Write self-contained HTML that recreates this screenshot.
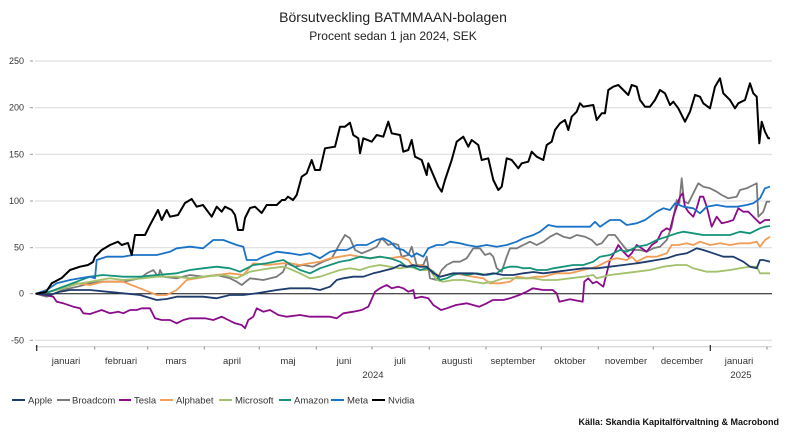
<!DOCTYPE html>
<html><head><meta charset="utf-8"><style>
html,body{margin:0;padding:0;background:#fff;}
body{width:786px;height:437px;overflow:hidden;}
svg{display:block;}
text{font-family:"Liberation Sans",sans-serif;}
</style></head><body>
<svg width="786" height="437" viewBox="0 0 786 437" xmlns="http://www.w3.org/2000/svg">
<text x="393" y="22" text-anchor="middle" font-size="14" fill="#222">Börsutveckling BATMMAAN-bolagen</text>
<text x="393" y="40" text-anchor="middle" font-size="12" fill="#222">Procent sedan 1 jan 2024, SEK</text>
<g stroke="#d9d9d9" stroke-width="1">
<line x1="35" y1="61" x2="772" y2="61"/>
<line x1="35" y1="107.7" x2="772" y2="107.7"/>
<line x1="35" y1="154.3" x2="772" y2="154.3"/>
<line x1="35" y1="201" x2="772" y2="201"/>
<line x1="35" y1="247.7" x2="772" y2="247.7"/>
<line x1="35" y1="340.3" x2="772" y2="340.3"/>
</g>
<g stroke="#999" stroke-width="1">
<line x1="30" y1="61" x2="33" y2="61"/><line x1="30" y1="107.7" x2="33" y2="107.7"/><line x1="30" y1="154.3" x2="33" y2="154.3"/><line x1="30" y1="201" x2="33" y2="201"/><line x1="30" y1="247.7" x2="33" y2="247.7"/><line x1="30" y1="293.7" x2="33" y2="293.7"/><line x1="30" y1="340.3" x2="33" y2="340.3"/>
</g>
<g font-size="9" fill="#333" text-anchor="end">
<text x="24" y="64">250</text><text x="24" y="110.7">200</text><text x="24" y="157.3">150</text><text x="24" y="204">100</text><text x="24" y="250.7">50</text><text x="24" y="296.7">0</text><text x="24" y="343.3">-50</text>
</g>
<line x1="35" y1="346.7" x2="772" y2="346.7" stroke="#ccc" stroke-width="1"/>
<g stroke="#888" stroke-width="1">
<line x1="94.7" y1="346.7" x2="94.7" y2="349.5"/><line x1="147.7" y1="346.7" x2="147.7" y2="349.5"/><line x1="204.3" y1="346.7" x2="204.3" y2="349.5"/><line x1="259.3" y1="346.7" x2="259.3" y2="349.5"/><line x1="316.3" y1="346.7" x2="316.3" y2="349.5"/><line x1="372" y1="346.7" x2="372" y2="349.5"/><line x1="429.3" y1="346.7" x2="429.3" y2="349.5"/><line x1="486" y1="346.7" x2="486" y2="349.5"/><line x1="541.3" y1="346.7" x2="541.3" y2="349.5"/><line x1="598.3" y1="346.7" x2="598.3" y2="349.5"/><line x1="653.3" y1="346.7" x2="653.3" y2="349.5"/><line x1="767" y1="346.7" x2="767" y2="349.5"/>
</g>
<g stroke="#222" stroke-width="1.2">
<line x1="36.7" y1="345" x2="36.7" y2="351"/><line x1="710.3" y1="345" x2="710.3" y2="351"/>
</g>
<g font-size="9.5" fill="#333" text-anchor="middle">
<text x="66" y="364">januari</text><text x="121" y="364">februari</text><text x="176" y="364">mars</text><text x="232" y="364">april</text><text x="288" y="364">maj</text><text x="344" y="364">juni</text><text x="400" y="364">juli</text><text x="457" y="364">augusti</text><text x="513" y="364">september</text><text x="570" y="364">oktober</text><text x="626" y="364">november</text><text x="682" y="364">december</text><text x="739" y="364">januari</text>
<text x="373" y="378">2024</text><text x="741" y="378">2025</text>
</g>
<line x1="35" y1="293.7" x2="772" y2="293.7" stroke="#111" stroke-width="1"/>
<g fill="none" stroke-width="1.8" stroke-linejoin="round">
<polyline stroke="#7a7a7a" points="36,293.7 46.7,296.7 63,290 80,286 90,283.3 103,281.7 123,281.7 140,278.3 146.7,273.3 153.3,270 158.3,276.7 160,270 163.3,276.7 176.7,278.3 190,275 203,276.7 216.7,275 230,278.3 236.7,281.7 241.7,285 250,278.3 263.3,280 276.7,276.7 283,272 286.7,263.3 295,266.7 303,265 313,266.7 323,261.7 331.7,258.3 340,243.3 345,235 350,238.3 355,250 361.7,253.3 370,250 376.7,246.7 381.7,238.3 388.3,245 393.3,243.3 398.3,245 401.7,256.7 408.3,255 411.7,246.7 416.7,265 423.3,265 426.7,256.7 430,278.3 436.7,280 441.7,270 446.7,265 453.3,261.7 460,261.7 466.7,258.3 473.3,248.3 480,248.3 485,255 490,253.3 493.3,256.7 496.7,268.3 501.7,271.7 506.7,256.7 510,248.3 516.7,248.3 523.3,245 530,241.7 536.7,245 543.3,241.7 550,236.7 556.7,233.3 563.3,236.7 570,238.3 576.7,235 585,236.7 591.7,240 596.7,245 601.7,243.3 608.3,235 615,235 620,241.7 626.7,250 633.3,250 640,250 646.7,251.7 653.3,248.3 660,246.7 666.7,240 671.7,226.7 676.7,200 679.3,203.3 681.7,178.3 684,201.7 688.3,203.3 693.3,193.3 698.3,183.3 703.3,186.7 710,188.3 716.7,191.7 721.7,195 728.3,198.3 736.7,196.7 740,190 746.7,188.3 753.3,185 756.7,183.3 758.3,216.7 763.3,211.7 766.7,201.7 770,201.7"/>
<polyline stroke="#8a0c8a" points="36,293.7 45,295 53.3,296.7 56.7,301.7 63.3,303.3 73.3,306.7 80,308.3 83.3,313.3 90,314 96.7,311.7 101.7,310 110,313.3 118.3,311.7 123.3,313.3 130,310 136.7,310 141.7,308.3 150,308.3 155,318.3 161.7,320 170,320 176.7,323.3 183.3,320 190,318.3 198.3,318.3 205,318.3 213.3,320 221.7,316.7 228.3,320 235,323.3 241.7,325 245,328.3 248.3,320 253.3,316.7 256.7,308.3 263.3,311.7 270,310 278.3,315 286.7,316.7 300,315 310,316.7 330,316.7 336.7,318.3 343.3,313.3 353.3,311.7 361.7,310 368.3,306.7 375,291.7 380,288.3 386.7,285 391.7,288.3 398.3,286.7 403.3,288.3 408.3,291.7 413.3,290 415,298.3 421.7,296.7 428.3,298.3 433.3,305 441,310 446.7,308.3 456,305 466.7,303.3 479.3,306.7 486.7,303.3 492.7,300 503.3,300 510,298.3 519.3,295 526.7,291.7 532.7,288.3 543.3,290 552.7,290 556.7,293.3 559.3,301.7 570,299.3 582.7,301.7 584.3,281.7 588.3,278.3 592.7,283.3 596.7,281.7 603.3,286.7 606.7,273.3 610,260 615,251.7 618.3,245 623.3,251.7 628.3,256.7 631.7,253.3 636.7,245 641.7,248.3 646.7,251.7 651.7,245 656.7,241.7 661.7,231.7 666.7,228.3 670,230 673.3,216.7 676.7,206.7 680,196.7 682.7,193.3 685,206.7 688.3,211.7 693.3,216.7 696.7,208.3 700,196.7 703.3,196.7 706.7,206.7 711.7,226.7 716.7,216.7 721.7,223.3 728.3,221.7 733.3,220 738.3,208.3 743.3,211.7 748.3,211.7 753.3,216.7 760,223.3 765,220 770,220"/>
<polyline stroke="#f29c55" points="36,293.7 50,291.7 63.3,286.7 76.7,283.3 90,285 103,281.7 123,281.7 140,288.3 156.7,295 166.7,295 176.7,290 186.7,280 196.7,278.3 216.7,275 230,273.3 243.3,275 253.3,263.3 266.7,265 283.3,263.3 290,263.3 300,265 310,263.3 320,261.7 330,258.3 340,256.7 350,255 360,256.7 370,258.3 380,256.7 390,258.3 400,256.7 408.3,260 413.3,266.7 420,265 426.7,266.7 433.3,271.7 440,276.7 446.7,275 453.3,273.3 463.3,275 473.3,276.7 483.3,278.3 490,283.3 500,283.3 510,281.7 516.7,276.7 526.7,278.3 536.7,276.7 543.3,276.7 556.7,273.3 570,273.3 583.3,270 596.7,266.7 603.3,263.3 610,260 616.7,258.3 626.7,260 631.7,256.7 636.7,261.7 646.7,256.7 656.7,256.7 666.7,253.3 671.7,245 678.3,245 686.7,243.3 693.3,245 700,241.7 710,245 720,243.3 730,245 740,243.3 750,243.3 756.7,241.7 760,246.7 765,240 770,236.7"/>
<polyline stroke="#a3c06b" points="36,293.7 50,291.7 63.3,288.3 76.7,284 90,281.7 110,278.3 123,280 143,278.3 156.7,276.7 176.7,276.7 190,278.3 203,276.7 223.3,275 236.7,278.3 250,271.7 270,268.3 283.3,266.7 290,269 300,273.3 310,278.3 320,276.7 330,273.3 340,270 350,268.3 360,270 370,266.7 380,265 390,266.7 400,268.3 410,266.7 420,270 430,270 436.7,280 443.3,281.7 453.3,280 463.3,280 473.3,281.7 483.3,283.3 493.3,281.7 503.3,278.3 513.3,278.3 523.3,278.3 533.3,278.3 543.3,280 556.7,280 570,278.3 583.3,276.7 593.3,275 596.7,278.3 610,275 623.3,273.3 636.7,271.7 650,270 663.3,266.7 676.7,265 686.7,265 693.3,268.3 700,270 706.7,271.7 716.7,271.7 730,270 740,268.3 750,266.7 756.7,266.7 760,273.3 765,273.3 770,273.3"/>
<polyline stroke="#13937a" points="36,293.7 50,291.7 63.3,286.7 76.7,281.7 90,276.7 103,275 123,276.7 140,276.7 156.7,275 176.7,273.3 190,270 203,268.3 216.7,266.7 230,268.3 240,271.7 253.3,265 266.7,263.3 283.3,260 290,264 300,270 310,273.3 320,268.3 330,265 340,261.7 350,260 360,256.7 370,258.3 380,256.7 390,258.3 400,261.7 406.7,266.7 413.3,266.7 420,270 426.7,268.3 433.3,271.7 440,280 446.7,278.3 453.3,275 460,273.3 466.7,275 476.7,273.3 486.7,275 496.7,273.3 503.3,268.3 510,266.7 516.7,266.7 523.3,268.3 530,268 536.7,270 546.7,270 553.3,268.3 563.3,266.7 573.3,265 583.3,265 593.3,261.7 600,256.7 610,255 620,250 626.7,251.7 636.7,246.7 646.7,245 656.7,240 666.7,236.7 676.7,233.3 683.3,231.7 693.3,233.3 703.3,235 716.7,235 730,235 740,231.7 750,233.3 760,228.3 765,226.7 770,226"/>
<polyline stroke="#1a72c8" points="36,293.7 46.7,290 56.7,283.3 70,280 80,278.3 90,276.7 95,278.3 96.7,260 106.7,256.7 123,256.7 133,255 156.7,255 170,251.7 176.7,248.3 190,246.7 203,248.3 213.3,240 223.3,240 236.7,245 243.3,246.7 246.7,260 256.7,260 263.3,256.7 276.7,251.7 290,253.3 300,255 310,253.3 320,258.3 330,251.7 338.3,250 346.7,250 356.7,245 366.7,245 376.7,240 383.3,238.3 390,241.7 396.7,248.3 403.3,250 411.7,256.7 416.7,253.3 423.3,256.7 428.3,248.3 436.7,245 443.3,245 450,241.7 460,243.3 466.7,245 476.7,246.7 486.7,245 496.7,246.7 506.7,245 516.7,241.7 523.3,238.3 533.3,235 540,231.7 548.3,225 556.7,226.7 566.7,226.7 580,226.7 590,226.7 595,221.7 600,226.7 610,220 620,220 626.7,225 636.7,223.3 645,220 656.7,211.7 663.3,208.3 670,210 675,203.3 683.3,206.7 693.3,208.3 700,213.3 706.7,206.7 716.7,205 726.7,206.7 736.7,206.7 746.7,205 753.3,203.3 760,198.3 765,188.3 770,186.7"/>
<polyline stroke="#1e3c6e" points="36,293.7 50,295 60,291.7 70,290 90,290 106.7,291.7 123,293.3 140,295 156.7,300 166.7,299 176.7,296.7 203,296.7 216.7,298.3 230,295 243.3,295 256.7,293.3 276.7,290 290,288.3 300,288.3 310,288.3 320,290 330,286.7 336.7,280 343.3,278.3 353.3,276.7 363.3,276.7 373.3,273.3 380,271.7 386.7,270 393.3,268.3 400,265 406.7,266.7 413.3,265 420,266.7 426.7,266.7 433.3,273.3 440,276.7 446.7,275 453.3,273.3 463.3,273.3 473.3,273.3 483.3,275 493.3,273.3 503.3,275 513.3,275 523.3,273.3 533.3,272 543.3,273.3 556.7,271.7 570,270 583.3,268.3 596.7,268.3 610,266.7 623.3,265 636.7,263.3 646.7,261.7 656.7,260 666.7,258.3 676.7,255 686.7,253.3 696.7,248.3 703.3,250 713.3,253.3 723.3,256.7 733.3,256.7 743.3,261.7 750,266.7 756.7,268.3 760,260 763.3,260 770,261.7"/>
<polyline stroke="#000" stroke-width="2" points="36,293.7 46,292 51.7,283.3 61.7,278 70,270 80,266.7 88,265 93,262 95,256.7 101.7,250 110,245 118,241.7 121.7,245 128,243 131.7,255 135,235 145,235 150,225 158,210 161.7,220 166.7,210 170,216.7 178,215 185,203 191.7,199 196.7,206.7 203,205 211.7,216.7 216.7,206.7 221.7,211.7 225,206.7 231.7,210 235,215 238,230 243,230 245,218 250,208 255,206.7 261.7,213 266.7,205 276.7,205 282,200 285,200 288,196.7 293,200 296.7,195 301.7,176.7 306.7,173.3 311.7,160 315,170 320,170 325,148.3 335,146.7 340,126.7 345,126.7 350,122.7 353.3,135 358.3,138.3 360,153.3 363.3,138.3 371.7,141.7 376.7,135 383.3,136.7 388.3,121.7 391.7,133.3 400,135 403.3,151.7 408.3,150 411.7,140 415,156.7 421.7,160 426.7,175 428.3,163.3 433.3,175 438.3,186.7 441.7,191.7 445,180 451.7,160 456.7,141.7 463.3,136.7 468.3,146.7 471.7,140 478.3,145 481.7,160 488.3,158.3 493.3,180 498.3,190 501.7,186.7 506.7,158.3 511.7,160 518.3,168.3 521.7,163.3 528.3,161.7 531.7,151.7 536.7,156.7 543.3,160 546.7,145 551.7,141.7 555,130 560,123.3 565,120 568.3,130 571.7,116.7 576.7,111.7 580,103.3 583.3,106.7 593.3,105 596.7,120 601.7,113.3 605,113.3 608.3,90 613.3,86.7 618.3,85 623.3,90 628.3,95 631.7,85 636.7,86.7 640,100 645,106.7 650,106.7 655,100 660,90 665,93.3 670,105 673.3,101.7 678.3,108.3 685,121.7 690,111.7 695,95 700,96.7 703.3,103.3 710,108.3 715,86.7 720,78.3 723.3,93.3 730,100 735,108.3 738.3,103.3 745,100 750,83.3 753.3,93.3 756.7,96.7 759.3,143.3 761.7,121.7 765,131.7 768.3,138.3 770,138.3"/>
</g>
<g stroke-width="2">
<line x1="12" y1="400" x2="25" y2="400" stroke="#1e3c6e"/>
<line x1="57" y1="400" x2="70" y2="400" stroke="#7a7a7a"/>
<line x1="119" y1="400" x2="131" y2="400" stroke="#8a0c8a"/>
<line x1="160" y1="400" x2="173" y2="400" stroke="#f29c55"/>
<line x1="219" y1="400" x2="232" y2="400" stroke="#a3c06b"/>
<line x1="279" y1="400" x2="291" y2="400" stroke="#13937a"/>
<line x1="331" y1="400" x2="344" y2="400" stroke="#1a72c8"/>
<line x1="372" y1="400" x2="385" y2="400" stroke="#000"/>
</g>
<g font-size="9.5" fill="#333">
<text x="28" y="403.5">Apple</text><text x="72" y="403.5">Broadcom</text><text x="134" y="403.5">Tesla</text><text x="176" y="403.5">Alphabet</text><text x="235" y="403.5">Microsoft</text><text x="294" y="403.5">Amazon</text><text x="347" y="403.5">Meta</text><text x="388" y="403.5">Nvidia</text>
</g>
<text x="779" y="425" text-anchor="end" font-size="9" font-weight="bold" fill="#111">Källa: Skandia Kapitalförvaltning &amp; Macrobond</text>
</svg>
</body></html>
